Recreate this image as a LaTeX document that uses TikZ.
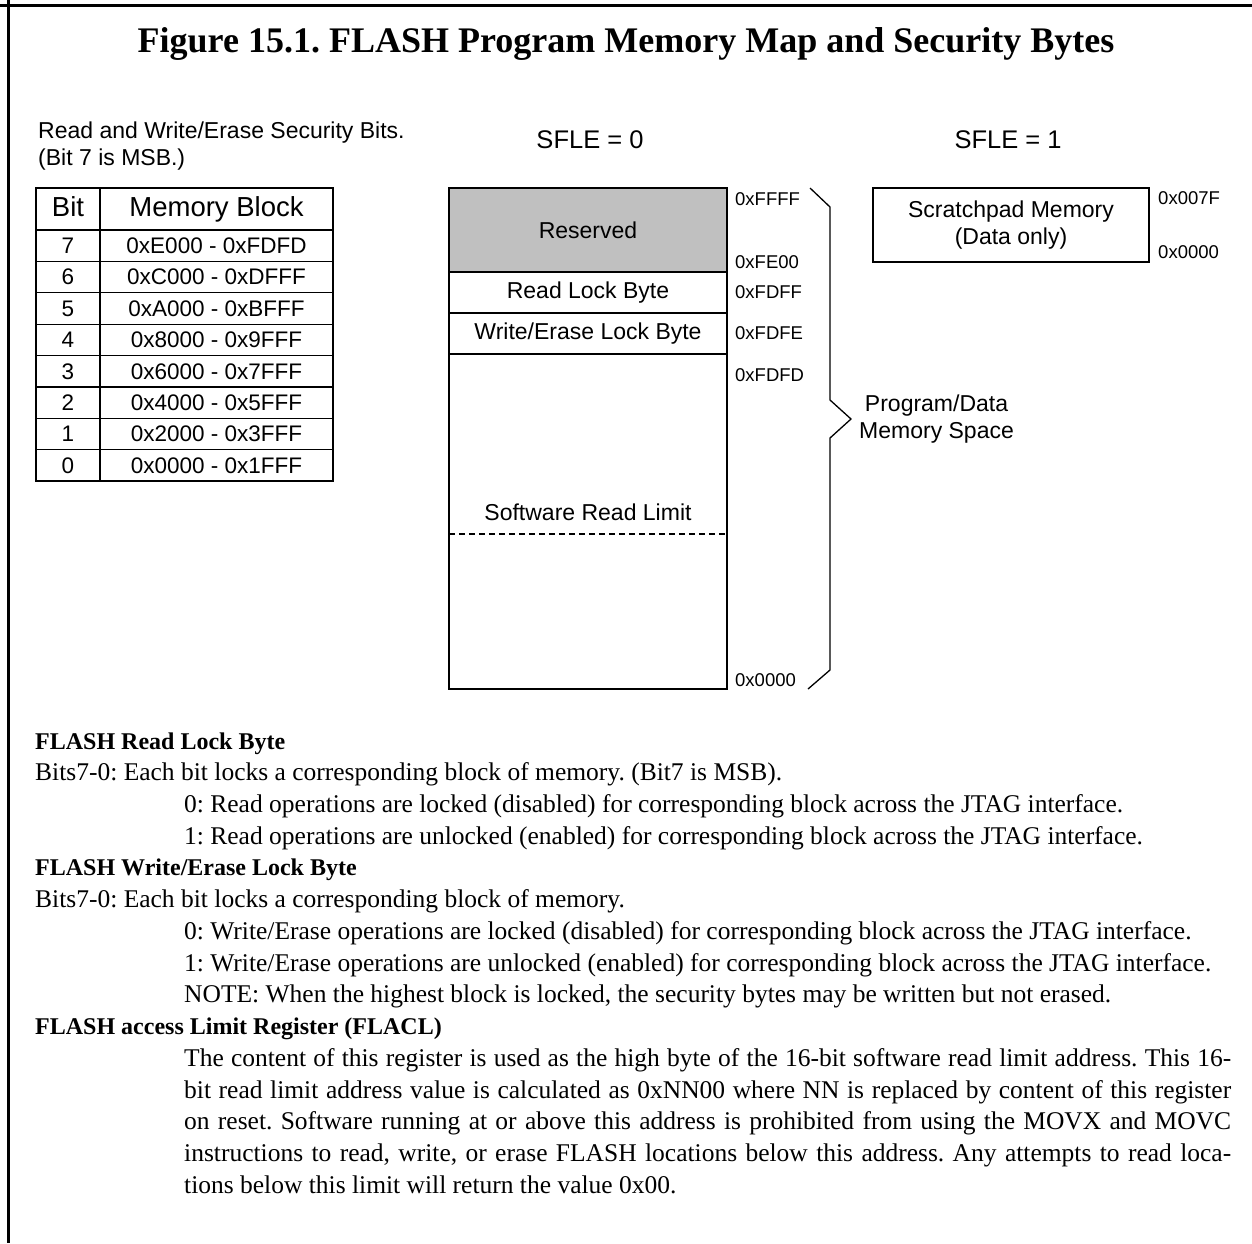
\documentclass[tikz,border=0pt]{standalone}
\usepackage{fontspec}
\setmainfont{Liberation Serif}
\setsansfont{Liberation Sans}
\usetikzlibrary{positioning}
\definecolor{resgray}{RGB}{192,192,192}
\newcommand{\fsz}[2]{\fontsize{#1pt}{#2pt}\selectfont}
\newcommand{\jline}[1]{\makebox[1047pt][s]{#1}}
\frenchspacing
\tikzset{
  frameline/.style = {line width=3pt},
  memcell/.style   = {draw, line width=1.3pt, minimum width=278pt, inner sep=0pt, outer sep=0pt,
                      font=\sffamily\fsz{23}{27}},
  addr/.style      = {anchor=west, inner sep=0pt, font=\sffamily\fsz{18.5}{22}},
  lbl/.style       = {align=center, inner sep=0pt, font=\sffamily\fsz{23}{27.5}},
  sfle/.style      = {inner sep=0pt, font=\sffamily\fsz{25.5}{30}},
  tblhead/.style   = {draw, line width=2.4pt, minimum height=42pt, inner sep=0pt, outer sep=0pt,
                      text height=19pt, text depth=5pt, font=\sffamily\fsz{27.5}{30}},
  tblcell/.style   = {draw, line width=1.2pt, minimum height=31.4pt, inner sep=0pt, outer sep=0pt,
                      font=\sffamily\fsz{22.5}{26}},
  body/.style      = {anchor=base west, inner sep=0pt, font=\fsz{25.5}{31.7}},
  bodyhead/.style  = {body, font=\bfseries\fsz{24}{31.7}},
}
\begin{document}
\begin{tikzpicture}[x=1pt, y=-1pt]
\useasboundingbox (0,0) rectangle (1252,1243);

% frame
\draw[frameline] (0,5.5) -- (1252,5.5);
\draw[frameline] (8.5,0) -- (8.5,1243);

\node[font=\bfseries\fsz{36}{40}, inner sep=0pt] (title) at (626,44)
  {Figure 15.1. FLASH Program Memory Map and Security Bytes};

% security bits table
\node[lbl, align=left, anchor=west] (secbits) at (38,146)
  {Read and Write/Erase Security Bits.\\(Bit 7 is MSB.)};
\node[tblhead, minimum width=64pt] (hbit) at (68,209) {Bit};
\node[tblhead, minimum width=233pt] (hblk) at (216.5,209) {Memory Block};
\foreach \b/\rng [count=\i] in {7/0xE000 - 0xFDFD, 6/0xC000 - 0xDFFF, 5/0xA000 - 0xBFFF,
    4/0x8000 - 0x9FFF, 3/0x6000 - 0x7FFF, 2/0x4000 - 0x5FFF, 1/0x2000 - 0x3FFF, 0/0x0000 - 0x1FFF} {
  \node[tblcell, minimum width=64pt] (bit\b) at (68,214.3+31.4*\i) {\b};
  \node[tblcell, minimum width=233pt] (blk\b) at (216.5,214.3+31.4*\i) {\rng};
}
\draw[line width=1.8pt] (hbit.north west) rectangle (blk0.south east);

% SFLE = 0 map
\node[sfle] (sfle0) at (590,140) {SFLE = 0};
\node[memcell, fill=resgray, minimum height=84pt] (res) at (588,230) {Reserved};
\node[memcell, minimum height=41pt, below=0pt of res] (rlock) {Read Lock Byte};
\node[memcell, minimum height=41pt, below=0pt of rlock] (wlock) {Write/Erase Lock Byte};
\node[memcell, minimum height=335pt, below=0pt of wlock] (prog) {};
\node[lbl] (swlim) at (588,512) {Software Read Limit};
\coordinate (limit) at (588,534);
\draw[line width=1.2pt, dash pattern=on 6pt off 4pt] (prog.west |- limit) -- (prog.east |- limit);

\node[addr] (aFFFF) at (735,199) {0xFFFF};
\node[addr] (aFE00) at (735,262) {0xFE00};
\node[addr] (aFDFF) at (735,292) {0xFDFF};
\node[addr] (aFDFE) at (735,333) {0xFDFE};
\node[addr] (aFDFD) at (735,375) {0xFDFD};
\node[addr] (a0000) at (735,680) {0x0000};

% brace
\coordinate (tip) at (851,419);
\draw[line width=1.3pt] (810,188) -- (830,207) -- (830,400) -- (tip) -- (830,438) -- (830,670) -- (808,689);
\node[lbl, anchor=west] (pdspace) at ([xshift=8pt]tip) {Program/Data\\Memory Space};

% SFLE = 1 map
\node[sfle] (sfle1) at (1008,140) {SFLE = 1};
\node[lbl, draw, line width=1.3pt, minimum width=276pt, minimum height=74pt] (scratch) at (1011,225)
  {Scratchpad Memory\\(Data only)};
\node[addr] (s007F) at (1158,198) {0x007F};
\node[addr] (s0000) at (1158,252) {0x0000};

% description
\node[bodyhead] (rlhead) at (35,749) {FLASH Read Lock Byte};
\node[body] (rl0) at (35,780) {Bits7-0: Each bit locks a corresponding block of memory. (Bit7 is MSB).};
\node[body] (rl1) at (184,812) {0: Read operations are locked (disabled) for corresponding block across the JTAG interface.};
\node[body] (rl2) at (184,844) {1: Read operations are unlocked (enabled) for corresponding block across the JTAG interface.};
\node[bodyhead] (wlhead) at (35,875) {FLASH Write/Erase Lock Byte};
\node[body] (wl0) at (35,907) {Bits7-0: Each bit locks a corresponding block of memory.};
\node[body] (wl1) at (184,939) {0: Write/Erase operations are locked (disabled) for corresponding block across the JTAG interface.};
\node[body] (wl2) at (184,971) {1: Write/Erase operations are unlocked (enabled) for corresponding block across the JTAG interface.};
\node[body] (wl3) at (184,1002) {NOTE: When the highest block is locked, the security bytes may be written but not erased.};
\node[bodyhead] (flhead) at (35,1034) {FLASH access Limit Register (FLACL)};
\node[body] (fl1) at (184,1066) {\jline{The content of this register is used as the high byte of the 16-bit software read limit address. This 16-}};
\node[body] (fl2) at (184,1098) {\jline{bit read limit address value is calculated as 0xNN00 where NN is replaced by content of this register}};
\node[body] (fl3) at (184,1129) {\jline{on reset. Software running at or above this address is prohibited from using the MOVX and MOVC}};
\node[body] (fl4) at (184,1161) {\jline{instructions to read, write, or erase FLASH locations below this address. Any attempts to read loca-}};
\node[body] (fl5) at (184,1193) {tions below this limit will return the value 0x00.};

\end{tikzpicture}
\end{document}
